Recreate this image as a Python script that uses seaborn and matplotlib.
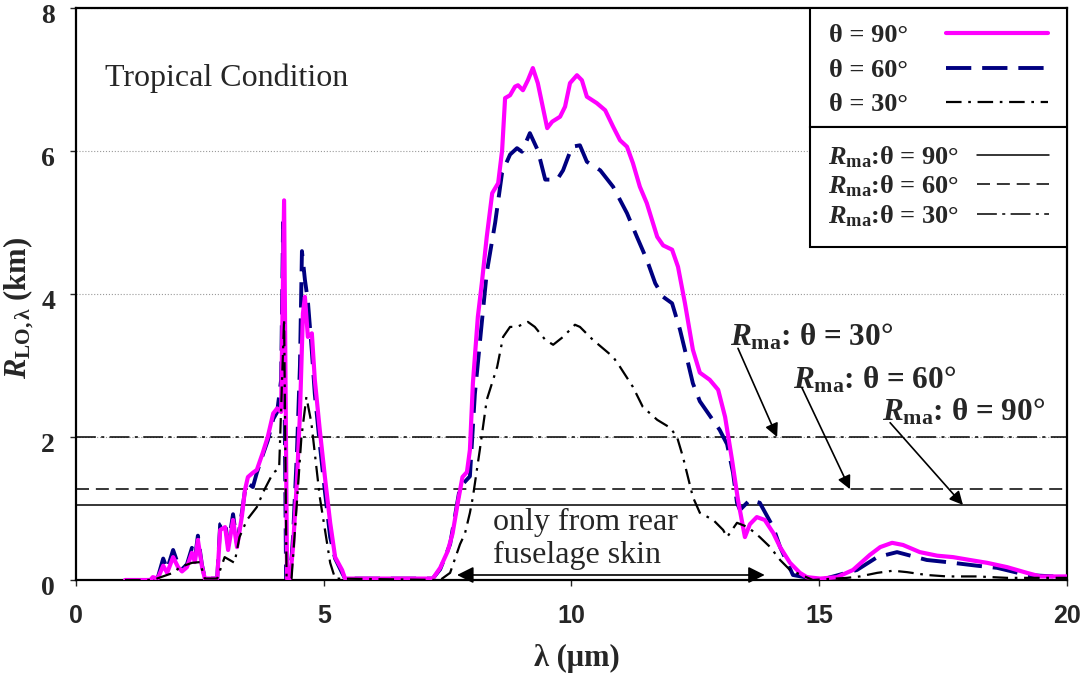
import matplotlib
matplotlib.use("Agg")
import matplotlib.pyplot as plt
import matplotlib.transforms as mtransforms
from matplotlib.lines import Line2D
from matplotlib.patches import Rectangle
import seaborn as sns
import pandas as pd

# ---data (lambda in um, R in km)---
curve_90 = [(0.99, 0), (1.5, 0), (1.55, 0.04), (1.65, 0.02), (1.76, 0.2), (1.84, 0.1), (1.96, 0.32),
            (2.06, 0.18), (2.14, 0.12), (2.24, 0.18), (2.34, 0.38), (2.4, 0.25), (2.46, 0.56), (2.54, 0.2),
            (2.6, 0.02), (2.85, 0.02), (2.91, 0.7), (3.01, 0.74), (3.07, 0.42), (3.17, 0.84), (3.25, 0.46),
            (3.35, 0.9), (3.41, 1.26), (3.47, 1.44), (3.57, 1.5), (3.65, 1.54), (3.77, 1.78), (3.87, 2.0),
            (3.98, 2.33), (4.06, 2.4), (4.14, 2.35), (4.2, 5.31), (4.26, 0.02), (4.32, 0.02), (4.38, 0.46),
            (4.46, 1.4), (4.52, 2.33), (4.58, 3.73), (4.62, 3.96), (4.68, 3.4), (4.76, 3.45), (4.82, 2.8),
            (4.92, 2.1), (5.03, 1.4), (5.13, 0.8), (5.23, 0.32), (5.37, 0.14), (5.43, 0.02), (7.2, 0.02),
            (7.35, 0.17), (7.5, 0.4), (7.6, 0.65), (7.71, 1.1), (7.8, 1.44), (7.89, 1.51), (7.95, 1.82),
            (8.01, 2.75), (8.11, 3.68), (8.19, 4.15), (8.29, 4.8), (8.4, 5.41), (8.52, 5.55), (8.6, 6.01),
            (8.66, 6.74), (8.76, 6.78), (8.86, 6.9), (8.92, 6.92), (9.02, 6.85), (9.12, 6.99), (9.22, 7.16),
            (9.32, 6.95), (9.51, 6.32), (9.61, 6.41), (9.77, 6.48), (9.87, 6.62), (9.97, 6.95), (10.11, 7.06),
            (10.21, 6.99), (10.31, 6.76), (10.51, 6.67), (10.68, 6.57), (10.84, 6.34), (10.98, 6.15),
            (11.12, 6.06), (11.24, 5.83), (11.38, 5.5), (11.52, 5.27), (11.73, 4.8), (11.85, 4.68),
            (12.03, 4.62), (12.15, 4.38), (12.29, 3.87), (12.45, 3.22), (12.59, 2.9), (12.79, 2.8),
            (12.96, 2.66), (13.1, 2.28), (13.24, 1.68), (13.36, 1.12), (13.5, 0.6), (13.6, 0.78),
            (13.74, 0.88), (13.9, 0.84), (14.07, 0.66), (14.21, 0.46), (14.41, 0.24), (14.61, 0.1),
            (14.75, 0.04), (15.02, 0.02), (15.36, 0.04), (15.68, 0.14), (16.02, 0.35), (16.23, 0.46),
            (16.47, 0.52), (16.69, 0.49), (17.03, 0.39), (17.38, 0.34), (17.7, 0.32), (18.04, 0.28),
            (18.39, 0.24), (18.79, 0.18), (19.19, 0.1), (19.46, 0.05), (20.0, 0.05)]

curve_60 = [(0.99, 0), (1.5, 0), (1.55, 0.06), (1.65, 0.03), (1.76, 0.3), (1.84, 0.15), (1.96, 0.42),
            (2.06, 0.22), (2.14, 0.15), (2.24, 0.22), (2.34, 0.45), (2.4, 0.3), (2.46, 0.62), (2.54, 0.22),
            (2.6, 0.02), (2.85, 0.02), (2.91, 0.78), (3.01, 0.82), (3.07, 0.48), (3.17, 0.92), (3.25, 0.5),
            (3.35, 0.95), (3.41, 1.25), (3.47, 1.35), (3.57, 1.3), (3.65, 1.5), (3.77, 1.75), (3.87, 1.95),
            (3.98, 2.25), (4.06, 2.35), (4.14, 2.8), (4.18, 5.0), (4.24, 0.02), (4.32, 0.02), (4.38, 0.6),
            (4.46, 1.8), (4.52, 3.0), (4.56, 4.6), (4.62, 4.2), (4.68, 3.9), (4.76, 3.2), (4.82, 2.6),
            (4.92, 1.9), (5.03, 1.2), (5.13, 0.6), (5.23, 0.3), (5.37, 0.1), (5.43, 0.02), (7.2, 0.02),
            (7.35, 0.15), (7.55, 0.5), (7.75, 1.3), (7.95, 1.45), (8.05, 2.6), (8.19, 3.6), (8.29, 4.3),
            (8.46, 5.0), (8.6, 5.7), (8.76, 5.95), (8.9, 6.04), (9.0, 5.99), (9.16, 6.25), (9.32, 6.01),
            (9.47, 5.6), (9.71, 5.6), (9.83, 5.73), (10.01, 6.06), (10.17, 6.08), (10.31, 5.85),
            (10.58, 5.73), (10.84, 5.5), (11.12, 5.13), (11.32, 4.8), (11.52, 4.48), (11.69, 4.15),
            (11.85, 3.96), (12.03, 3.87), (12.19, 3.5), (12.33, 3.1), (12.45, 2.75), (12.59, 2.5),
            (12.79, 2.3), (12.99, 2.1), (13.14, 1.9), (13.26, 1.5), (13.34, 1.08), (13.4, 0.98),
            (13.6, 1.12), (13.8, 1.08), (14.07, 0.74), (14.21, 0.46), (14.47, 0.07), (15.02, 0.0),
            (15.76, 0.14), (16.17, 0.32), (16.57, 0.39), (17.17, 0.28), (17.58, 0.25), (18.18, 0.2),
            (18.59, 0.17), (19.19, 0.07), (20.0, 0.04)]

curve_30 = [(0.99, 0), (1.55, 0), (1.96, 0.1), (2.1, 0.18), (2.34, 0.24), (2.5, 0.25), (2.6, 0.02),
            (2.85, 0.02), (3.0, 0.32), (3.2, 0.24), (3.3, 0.6), (3.45, 0.84), (3.65, 1.02), (3.8, 1.26),
            (3.98, 1.5), (4.1, 1.56), (4.2, 3.65), (4.25, 0.02), (4.35, 0.02), (4.45, 1.0), (4.55, 2.0),
            (4.65, 2.56), (4.75, 2.2), (4.92, 1.16), (5.13, 0.24), (5.23, 0.02), (7.35, 0.0), (7.55, 0.1),
            (7.75, 0.5), (7.85, 0.65), (7.95, 0.94), (8.01, 1.16), (8.15, 1.82), (8.29, 2.52), (8.5, 2.98),
            (8.62, 3.4), (8.76, 3.54), (8.9, 3.54), (9.12, 3.61), (9.26, 3.54), (9.47, 3.36), (9.63, 3.29),
            (9.83, 3.4), (10.07, 3.57), (10.17, 3.54), (10.43, 3.36), (10.84, 3.12), (10.98, 2.98),
            (11.24, 2.7), (11.44, 2.42), (11.73, 2.24), (11.99, 2.13), (12.13, 2.0), (12.25, 1.72),
            (12.35, 1.44), (12.45, 1.16), (12.59, 0.94), (12.86, 0.84), (13.06, 0.7), (13.14, 0.6),
            (13.34, 0.8), (13.56, 0.74), (13.8, 0.6), (14.01, 0.46), (14.21, 0.28), (14.41, 0.14),
            (14.87, 0.0), (15.56, 0.03), (15.82, 0.05), (16.17, 0.1), (16.49, 0.13), (16.77, 0.11),
            (17.17, 0.07), (17.58, 0.05), (18.18, 0.05), (18.79, 0.03), (20.0, 0.03)]

# R_ma levels (km) for 90, 60, 30 deg
rma_angles = ['90', '60', '30']
rma_levels = [1.05, 1.27, 2.0]

sns.set_style('ticks')
plt.rcParams['font.family'] = ['Liberation Serif', 'DejaVu Serif']
plt.rcParams['font.weight'] = 'bold'
plt.rcParams['mathtext.fontset'] = 'custom'
plt.rcParams['mathtext.rm'] = 'Liberation Serif:bold'
plt.rcParams['mathtext.it'] = 'Liberation Serif:italic:bold'
plt.rcParams['mathtext.bf'] = 'Liberation Serif:bold'

fig, ax = plt.subplots(figsize=(10.87, 6.79), dpi=100)
fig.subplots_adjust(left=0.0699, right=0.9816, bottom=0.1458, top=0.9882)

MAGENTA = '#FF00FF'
NAVY = '#000080'
style_90 = dict(color=MAGENTA, lw=3.0, linestyle='-')
style_60 = dict(color=NAVY, lw=2.8, linestyle=(0, (6.5, 2.8)))
style_30 = dict(color='black', lw=1.6, linestyle=(0, (7, 3, 1.2, 3)))
rma_styles = [dict(color='black', lw=1.1, linestyle='-'),
              dict(color='black', lw=1.1, linestyle=(0, (8.5, 4.5))),
              dict(color='black', lw=1.1, linestyle=(0, (13, 3.5, 2, 3.5)))]

df60 = pd.DataFrame(curve_60, columns=['lam', 'r'])
df90 = pd.DataFrame(curve_90, columns=['lam', 'r'])
df30 = pd.DataFrame(curve_30, columns=['lam', 'r'])
sns.lineplot(data=df60, x='lam', y='r', ax=ax, estimator=None, sort=False, zorder=2, **style_60)
sns.lineplot(data=df90, x='lam', y='r', ax=ax, estimator=None, sort=False, zorder=3, **style_90)
sns.lineplot(data=df30, x='lam', y='r', ax=ax, estimator=None, sort=False, zorder=4, **style_30)

for lev, st in zip(rma_levels, rma_styles):
    ax.axhline(lev, zorder=1.5, **st)

ax.set_xlim(0, 20)
ax.set_ylim(0, 8)
ax.set_xticks([0, 5, 10, 15, 20])
ax.set_yticks([0, 2, 4, 6, 8])
ax.grid(axis='y', color='#9a9a9a', lw=0.8, linestyle=':', zorder=0)
ax.set_axisbelow(True)
ax.tick_params(direction='out', length=4, width=1)
ax.tick_params(axis='x', pad=13)
ax.tick_params(axis='y', pad=11)
for lbl in ax.get_xticklabels():
    lbl.set_fontfamily('Liberation Sans')
    lbl.set_fontsize(18)
# y tick labels sit a little low in the original
shift_down = mtransforms.ScaledTranslation(0, -4 / 72, fig.dpi_scale_trans)
for lbl in ax.get_yticklabels():
    lbl.set_fontsize(20)
    lbl.set_transform(lbl.get_transform() + shift_down)
for sp in ax.spines.values():
    sp.set_linewidth(1.6)
    sp.set_color('black')

ax.set_xlabel('λ (μm)', fontsize=22, fontweight='bold')
ax.xaxis.set_label_coords(0.505, -0.112)
ax.set_ylabel('$R_{\\mathrm{LO,λ}}$ (km)', fontsize=22, fontweight='bold')
ax.yaxis.set_label_coords(-0.04, 0.476)

ax.text(0.59, 7.02, 'Tropical Condition', fontsize=23, fontweight='normal', va='center', ha='left')
ax.text(8.42, 0.573, 'only from rear\nfuselage skin', fontsize=23, fontweight='normal',
        va='center', ha='left', linespacing=1.2)
ax.annotate('', xy=(7.69, 0.07), xytext=(13.9, 0.07),
            arrowprops=dict(arrowstyle='<|-|>', color='black', lw=1.2, mutation_scale=25,
                            shrinkA=0, shrinkB=0))

# R_ma labels with arrows
lab_pos = [(16.27, 2.35), (14.47, 2.80), (13.2, 3.40)]
arr_tail = [(16.43, 2.2), (14.65, 2.69), (13.36, 3.24)]
arr_head_x = [17.9, 15.62, 14.15]
for ang, lev, lp, tail, hx in zip(rma_angles, rma_levels, lab_pos, arr_tail, arr_head_x):
    ax.text(lp[0], lp[1], '$R_{\\mathrm{ma}}$: θ = ' + ang + '°', fontsize=22.5, va='center', ha='left')
    ax.annotate('', xy=(hx, lev), xytext=tail,
                arrowprops=dict(arrowstyle='-|>', color='black', lw=1.2, mutation_scale=20,
                                shrinkA=0, shrinkB=0))

# legend boxes
box_x0 = 0.7407
ax.add_patch(Rectangle((box_x0, 0.792), 1 - box_x0, 0.208, transform=ax.transAxes,
                       facecolor='white', edgecolor='black', lw=1.5, zorder=5))
ax.add_patch(Rectangle((box_x0, 0.582), 1 - box_x0, 0.210, transform=ax.transAxes,
                       facecolor='white', edgecolor='black', lw=1.5, zorder=5))

h1 = [Line2D([], [], **style_90), Line2D([], [], **style_60), Line2D([], [], **style_30)]
l1 = ['θ = 90°', 'θ = 60°', 'θ = 30°']
leg1 = ax.legend(h1, l1, loc='center', bbox_to_anchor=(box_x0 + (1 - box_x0) / 2, 0.8916),
                 bbox_transform=ax.transAxes, frameon=False, markerfirst=False, handlelength=3.86,
                 handletextpad=1.44, labelspacing=0.42, prop={'size': 19, 'weight': 'bold'})
leg1.set_zorder(6)
ax.add_artist(leg1)

h2 = [Line2D([], [], **st) for st in rma_styles]
l2 = ['$R_{\\mathrm{ma}}$:θ = ' + a + '°' for a in rma_angles]
leg2 = ax.legend(h2, l2, loc='center', bbox_to_anchor=(box_x0 + (1 - box_x0) / 2, 0.688),
                 bbox_transform=ax.transAxes, frameon=False, markerfirst=False, handlelength=2.73,
                 handletextpad=0.64, labelspacing=0.15, prop={'size': 19, 'weight': 'bold'})
leg2.set_zorder(6)

fig.savefig('out.png', dpi=100)
